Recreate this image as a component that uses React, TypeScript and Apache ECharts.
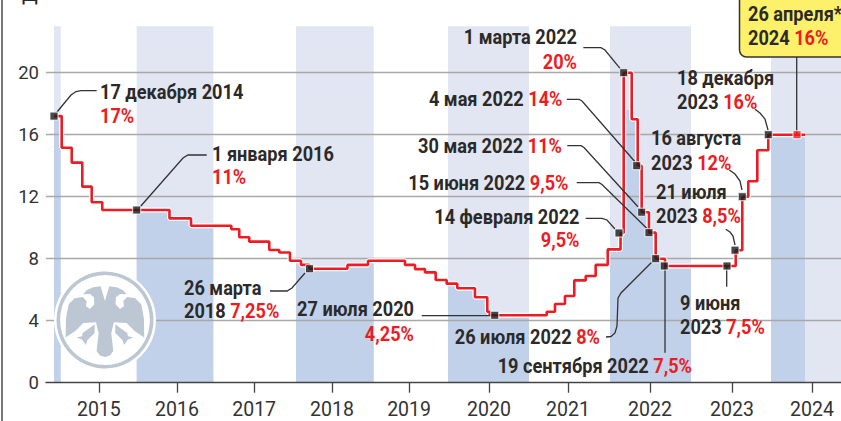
import React, { useEffect, useRef } from "react";
import * as echarts from "echarts";

// ---------- data ----------
const yearLabels = [2015, 2016, 2017, 2018, 2019, 2020, 2021, 2022, 2023, 2024];
const yTicks = [0, 4, 8, 12, 16, 20];
// rate steps: [decimal year the step takes effect, level]
const rateSteps: [number, number][] = [
  [2014.912, 17.2], [2015.013, 15.16], [2015.145, 14.2], [2015.284, 12.65], [2015.408, 11.64], [2015.547, 11.14],
  [2016.428, 10.6], [2016.709, 10.13], [2017.218, 9.9], [2017.314, 9.38], [2017.435, 9.1], [2017.677, 8.56],
  [2017.798, 8.4], [2017.927, 7.87], [2018.064, 7.6], [2018.174, 7.35], [2018.662, 7.6], [2018.927, 7.87],
  [2019.421, 7.6], [2019.556, 7.33], [2019.69, 7.12], [2019.834, 6.63], [2019.982, 6.39], [2020.115, 6.09],
  [2020.333, 5.51], [2020.485, 4.58], [2020.515, 4.35], [2021.219, 4.58], [2021.321, 5.08], [2021.444, 5.59],
  [2021.559, 6.6], [2021.7, 6.88], [2021.823, 7.6], [2021.972, 8.6], [2022.13, 9.66], [2022.169, 20],
  [2022.268, 17], [2022.342, 14], [2022.391, 11], [2022.481, 9.68], [2022.564, 8], [2022.679, 7.53],
  [2023.559, 8.55], [2023.641, 12], [2023.716, 13], [2023.829, 15], [2023.966, 16], [2024.425, 16],
];
// annotated dates drawn with a black square
const keyPoints: [number, number][] = [
  [2014.912, 17.2], [2016.0, 11.14], [2018.174, 7.35], [2020.577, 4.35], [2022.111, 9.66], [2022.169, 20],
  [2022.33, 14], [2022.391, 11], [2022.481, 9.68], [2022.564, 8], [2022.67, 7.53], [2023.45, 7.53],
  [2023.55, 8.55], [2023.641, 12], [2023.966, 16],
];
const currentPoint: [number, number][] = [[2024.325, 16]];
// shaded calendar years (light), dark where they lie under the rate line
const lightBands: [number, number][] = [[2014.912, 2015], [2016, 2017], [2018, 2019], [2020, 2021], [2022, 2023], [2024, 2024.875]];
const darkBands: [number, number][] = [[2014.912, 2015], [2016, 2017], [2018, 2019], [2020, 2021], [2022, 2023], [2024, 2024.425]];

// ---------- layout of the printed time axis (its years are not quite equal in width) ----------
const yearEdgeYears = [2014, 2015, 2016, 2017, 2018, 2019, 2020, 2021, 2022, 2023, 2024, 2025];
const yearEdgePx = [-15.3, 60.7, 136.7, 213.3, 296, 373.7, 448, 529, 610, 691, 771, 851];
const tickFraction = [0.502, 0.526, 0.494, 0.463, 0.476, 0.506, 0.481, 0.494, 0.513, 0.513];
const warp = (y: number) => {
  let i = Math.floor(y) - 2014;
  i = Math.max(0, Math.min(i, yearEdgePx.length - 2));
  return yearEdgePx[i] + (y - yearEdgeYears[i]) * (yearEdgePx[i + 1] - yearEdgePx[i]);
};
const tickPos = yearLabels.map((y, i) => warp(y + tickFraction[i]));

const FONT = 'Roboto, "Liberation Sans", sans-serif';
const INK = "#2b2a29";
const RED = "#ed1c24";
const LIGHT = "#e2e5f2";
const DARK = "#c2d1ea";
const GREY = "#bcc7d3";
const darkCap = 17.6;

const valueAt = (y: number) => {
  let v = rateSteps[0][1];
  for (const [d, r] of rateSteps) if (d <= y) v = r;
  return v;
};
const bandSeries = ([a, b]: [number, number]) => {
  const inside = rateSteps.filter(([d]) => d > a && d < b);
  const pts: [number, number][] = [[a, valueAt(a)], ...inside, [b, valueAt(b - 1e-6)]];
  return pts.map(([d, v]) => [warp(d), Math.min(v, darkCap)]);
};
const pos = (p: [number, number][]) => p.map(([d, v]) => [warp(d), v]);

// ---------- emblem ----------
const half = [
  "M165 108 L158 84 L152 64 L130 67 L110 76 L100 88 L120 87 L132 97 L133 118 L120 132 L108 124 L110 108 L98 96 L74 100 L56 118 L48 160 L47 218 L76 198 L100 174 L138 172 L146 205 L140 258 L150 272 L165 276 Z",
  "M134 178 L118 190 L98 204 L96 214 L80 218 L96 224 L108 240 L112 226 L134 204 Z",
];
const mirror = (d: string) => d.replace(/([ML])(\d+) (\d+)/g, (_m, c, x, y) => `${c}${330 - Number(x)} ${y}`);
const eagleD = [...half, ...half.map(mirror)].join(" ");
echarts.graphic.registerShape("cbrEagle", echarts.graphic.extendPath(eagleD, {}) as any);

// ---------- annotation text ----------
const SIZE = 21;
const WIDTH = 0.865;
const rich = {
  d: { fontFamily: FONT, fontSize: SIZE, fontWeight: 700, fill: INK },
  r: { fontFamily: FONT, fontSize: SIZE, fontWeight: 700, fill: RED },
};
const label = (x: number, y: number, text: string, align: "left" | "right" = "left") => ({
  type: "text",
  x,
  y,
  z: 8,
  scaleX: WIDTH,
  style: { text, rich, align, verticalAlign: "middle", fontFamily: FONT, fontSize: SIZE, fontWeight: 700, fill: INK },
});
const labels = [
  label(100, 92, "{d|17 декабря 2014}"),
  label(100, 116, "{r|17%}"),
  label(212, 154, "{d|1 января 2016}"),
  label(212, 177, "{r|11%}"),
  label(184, 288, "{d|26 марта}"),
  label(184, 311, "{d|2018 }{r|7,25%}"),
  label(414, 309, "{d|27 июля 2020}", "right"),
  label(414, 334, "{r|4,25%}", "right"),
  label(600, 337, "{d|26 июля 2022 }{r|8%}", "right"),
  label(692, 366, "{d|19 сентября 2022 }{r|7,5%}", "right"),
  label(680, 303, "{d|9 июня}"),
  label(680, 327, "{d|2023 }{r|7,5%}"),
  label(579.5, 217, "{d|14 февраля 2022}", "right"),
  label(579.5, 240, "{r|9,5%}", "right"),
  label(577, 37, "{d|1 марта 2022}", "right"),
  label(577, 62, "{r|20%}", "right"),
  label(562.5, 99.5, "{d|4 мая 2022 }{r|14%}", "right"),
  label(562, 146, "{d|30 мая 2022 }{r|11%}", "right"),
  label(568.5, 183.5, "{d|15 июня 2022 }{r|9,5%}", "right"),
  label(677, 78.5, "{d|18 декабря}"),
  label(677, 102, "{d|2023 }{r|16%}"),
  label(651, 138.5, "{d|16 августа}"),
  label(651, 163, "{d|2023 }{r|12%}"),
  label(656, 192, "{d|21 июля}"),
  label(656, 216, "{d|2023 }{r|8,5%}"),
  label(748, 14.5, "{d|26 апреля*}"),
  label(748, 38.5, "{d|2024 }{r|16%}"),
];

// ---------- leaders ----------
const leaderStyle = { stroke: "#333", lineWidth: 1.3, fill: "none" };
const poly = (points: number[][]) => ({ type: "polyline", z: 6, shape: { points }, style: leaderStyle });
const leaders = [
  poly([[57, 112], [71, 95], [76, 91.5], [81, 90.7], [96.7, 90.7]]),
  poly([[140, 207], [183, 158], [188, 155], [206.7, 155]]),
  poly([[305, 273], [292, 288], [287, 291], [270, 291]]),
  poly([[421.7, 315.7], [490.7, 315.7]]),
  poly([[585.7, 218.3], [602, 218.3], [607, 220], [615, 229]]),
  poly([[583.3, 47.7], [601, 47.7], [605, 50], [620, 68.3]]),
  poly([[566.7, 99.3], [579, 99.3], [582, 101], [635, 161.7]]),
  poly([[567.3, 145.7], [581, 145.7], [584, 147.5], [638, 206.7]]),
  poly([[576.7, 182.7], [599, 182.7], [602, 184.5], [646.7, 228.3]]),
  poly([[606, 337], [611, 336.5], [615, 333], [617, 326], [618, 298.3], [621, 293], [651.7, 262.3]]),
  poly([[665, 266], [665, 352.7]]),
  poly([[726.7, 266], [726.7, 286.7]]),
  poly([[725.7, 229.3], [730, 232], [733, 236], [735, 245]]),
  poly([[729.3, 170], [735, 174], [740, 181], [742, 190]]),
  poly([[755, 109.3], [760, 113], [765, 119], [768, 130]]),
  poly([[796.7, 57], [796.7, 134]]),
];

export default function App() {
  const ref = useRef<HTMLDivElement>(null);
  useEffect(() => {
    const chart = echarts.init(ref.current!, undefined, { renderer: "svg" });
    const grid = { left: 46, right: 0, top: 10.7, height: 372 };
    chart.setOption({
      animation: false,
      backgroundColor: "#fff",
      grid,
      xAxis: {
        type: "value",
        min: 46,
        max: 841,
        z: 2,
        splitLine: { show: false },
        axisLine: { show: true, lineStyle: { color: "#444", width: 1.4 } },
        axisTick: { show: true, inside: false, length: 10, customValues: tickPos, lineStyle: { color: "#444", width: 1.3 } },
        axisLabel: {
          customValues: tickPos,
          margin: 17,
          fontFamily: FONT,
          fontSize: 19.5,
          color: "#333",
          hideOverlap: false,
          formatter: (v: number) => {
            const i = tickPos.findIndex((p) => Math.abs(p - v) < 0.01);
            return i >= 0 ? String(yearLabels[i]) : "";
          },
        },
      },
      yAxis: {
        type: "value",
        min: 0,
        max: 24,
        interval: 4,
        z: 2,
        axisLine: { show: false },
        axisTick: { show: false },
        axisLabel: {
          margin: 7,
          fontFamily: FONT,
          fontSize: 18.5,
          color: "#333",
          formatter: (v: number) => (yTicks.includes(v) ? String(v) : ""),
        },
        splitLine: { show: true, showMinLine: false, showMaxLine: false, lineStyle: { color: "#a8a8a8", width: 1.3 } },
      },
      series: [
        {
          type: "custom",
          z: 0,
          silent: true,
          clip: false,
          data: lightBands.map(([a, b]) => [warp(a), warp(b)]),
          encode: { x: [0, 1] },
          renderItem: (_p: any, api: any) => {
            const p0 = api.coord([api.value(0), 23]);
            const p1 = api.coord([api.value(1), 0]);
            return { type: "rect", shape: { x: p0[0], y: p0[1], width: p1[0] - p0[0], height: p1[1] - p0[1] }, style: { fill: LIGHT } };
          },
        },
        ...darkBands.map((b) => ({
          type: "line",
          z: 1,
          step: "end",
          symbol: "none",
          silent: true,
          lineStyle: { width: 0 },
          areaStyle: { color: DARK, opacity: 1, origin: "start" },
          data: bandSeries(b),
        })),
        {
          type: "line",
          z: 3,
          step: "end",
          symbol: "none",
          silent: true,
          lineStyle: { color: "#fff", width: 5 },
          data: pos(rateSteps),
        },
        {
          type: "line",
          z: 4,
          step: "end",
          symbol: "none",
          silent: true,
          lineStyle: { color: RED, width: 2.6 },
          data: pos(rateSteps),
        },
        {
          type: "scatter",
          z: 7,
          symbol: "rect",
          symbolSize: 8,
          silent: true,
          itemStyle: { color: "#1a1a1a", borderColor: "#fff", borderWidth: 1 },
          data: pos(keyPoints),
        },
        {
          type: "scatter",
          z: 7,
          symbol: "rect",
          symbolSize: 8,
          silent: true,
          itemStyle: { color: RED, borderColor: "#fff", borderWidth: 1 },
          data: pos(currentPoint),
        },
      ],
      graphic: [
        { type: "line", z: 6, shape: { x1: 2, y1: 0, x2: 2, y2: 421 }, style: { stroke: "#777", lineWidth: 2 } },
        { type: "text", z: 8, x: 30, y: 4, style: { text: "Д", fontFamily: FONT, fontSize: 21, fill: INK, align: "center", verticalAlign: "bottom" } },
        { type: "circle", z: 5, shape: { cx: 105, cy: 320, r: 51 }, style: { fill: "#fff" } },
        { type: "circle", z: 5, shape: { cx: 105, cy: 320, r: 46.7 }, style: { fill: "#fff", stroke: GREY, lineWidth: 3.6 } },
        { type: "cbrEagle", z: 5, x: 50, y: 265, scaleX: 1 / 3, scaleY: 1 / 3, style: { fill: GREY } },
        { type: "rect", z: 7, shape: { x: 739.5, y: -12, width: 120, height: 69, r: 7 }, style: { fill: "#fdf06b", stroke: "#333", lineWidth: 1.5 } },
        ...leaders,
        ...labels,
      ],
    });
    return () => chart.dispose();
  }, []);
  return <div ref={ref} style={{ position: "absolute", left: 0, top: 0, width: 841, height: 421 }} />;
}
